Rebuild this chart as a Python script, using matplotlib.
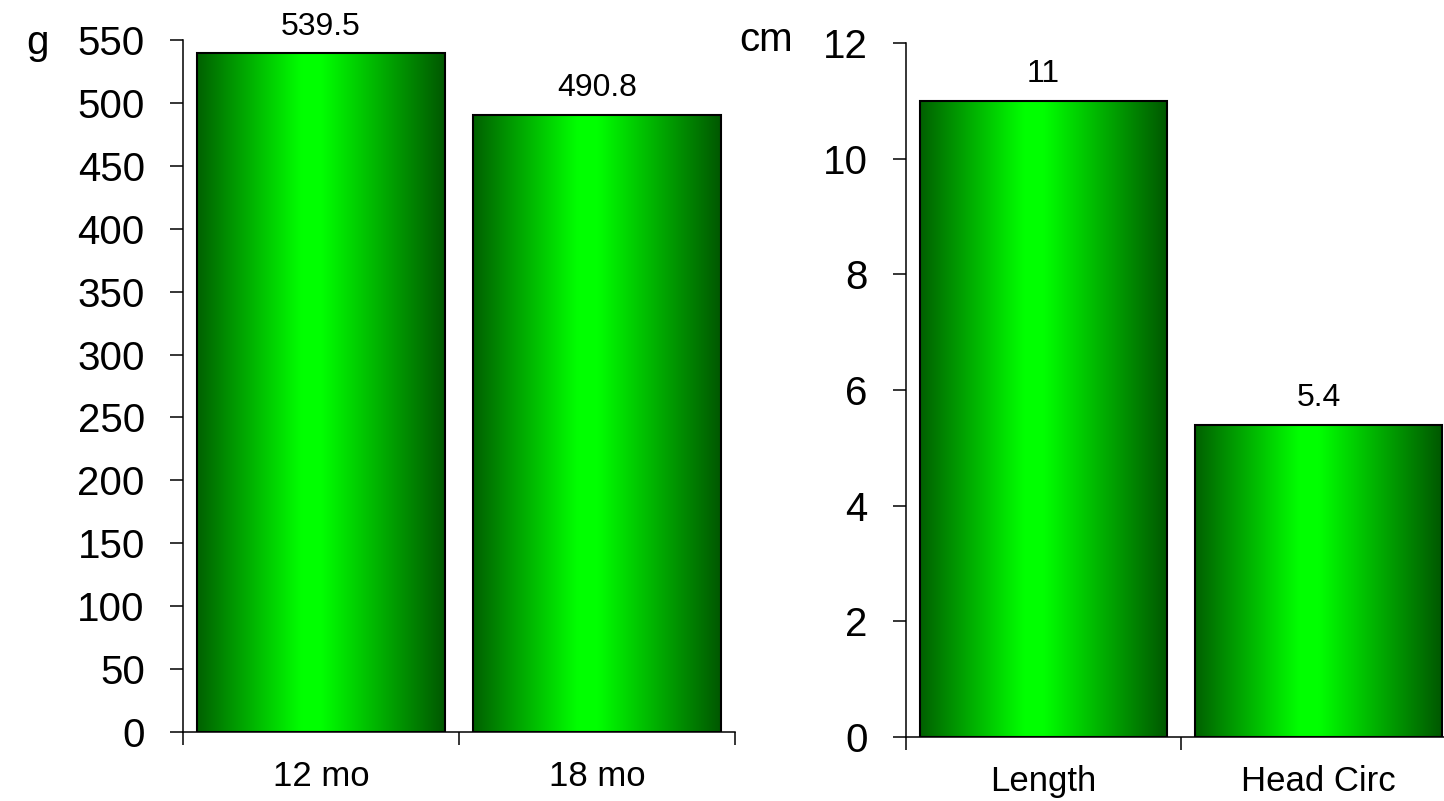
import numpy as np
import matplotlib
matplotlib.use("Agg")
import matplotlib.pyplot as plt
from matplotlib.colors import LinearSegmentedColormap

plt.rcParams["font.family"] = ["Liberation Sans", "DejaVu Sans"]

# data
weight_labels = ["12 mo", "18 mo"]
weight_values = [539.5, 490.8]
weight_ticks = [0, 50, 100, 150, 200, 250, 300, 350, 400, 450, 500, 550]

size_labels = ["Length", "Head Circ"]
size_values = [11, 5.4]
size_ticks = [0, 2, 4, 6, 8, 10, 12]

# horizontal gradient: dark green -> bright green -> dark green
green_cmap = LinearSegmentedColormap.from_list(
    "bar_green",
    [(0.0, (0, 0.38, 0)), (0.42, (0, 1.0, 0)), (0.5, (0, 1.0, 0)),
     (1.0, (0, 0.34, 0))],
)
gradient = np.linspace(0, 1, 256).reshape(1, -1)


def gradient_bars(ax, labels, values, ticks, ymax):
    x = np.arange(len(values)) + 0.5
    bars = ax.bar(x, values, width=0.9, facecolor="none",
                  edgecolor="black", linewidth=1.5, zorder=3)
    for b in bars:
        x0, w, h = b.get_x(), b.get_width(), b.get_height()
        im = ax.imshow(gradient, cmap=green_cmap, aspect="auto",
                       extent=[x0, x0 + w, 0, h], zorder=2)
        im.set_clip_path(b)
        ax.annotate(f"{h:g}", (x0 + w / 2, h), xytext=(0, 13.5),
                    textcoords="offset points", ha="center",
                    va="baseline", fontsize=23)

    ax.set_xlim(0, len(values))
    ax.set_ylim(0, ymax)
    ax.set_xticks(np.arange(len(values) + 1))
    ax.set_xticklabels([])
    ax.set_xticks(x, minor=True)
    ax.set_xticklabels(labels, minor=True, fontsize=25)
    ax.set_yticks(ticks)
    ax.set_yticklabels([str(t) for t in ticks], fontsize=29)

    ax.tick_params(axis="x", which="major", direction="out", length=9.5, width=1.1)
    ax.tick_params(axis="x", which="minor", length=0, pad=20)
    ax.tick_params(axis="y", direction="out", length=9.5, width=1.1, pad=18)
    for side in ("top", "right"):
        ax.spines[side].set_visible(False)
    for side in ("left", "bottom"):
        ax.spines[side].set_linewidth(1.1)


fig = plt.figure(figsize=(14.44, 8.01), dpi=100)

ax1 = fig.add_axes([0.1267, 0.0861, 0.3823, 0.8639])
gradient_bars(ax1, weight_labels, weight_values, weight_ticks, 550)

ax2 = fig.add_axes([0.6274, 0.0799, 0.3809, 0.8664])
gradient_bars(ax2, size_labels, size_values, size_ticks, 12)

fig.text(38 / 1444, 1 - 43 / 801, "g", fontsize=29, ha="center", va="center")
fig.text(766 / 1444, 1 - 40 / 801, "cm", fontsize=29, ha="center", va="center")

fig.savefig("out.png", dpi=100)
